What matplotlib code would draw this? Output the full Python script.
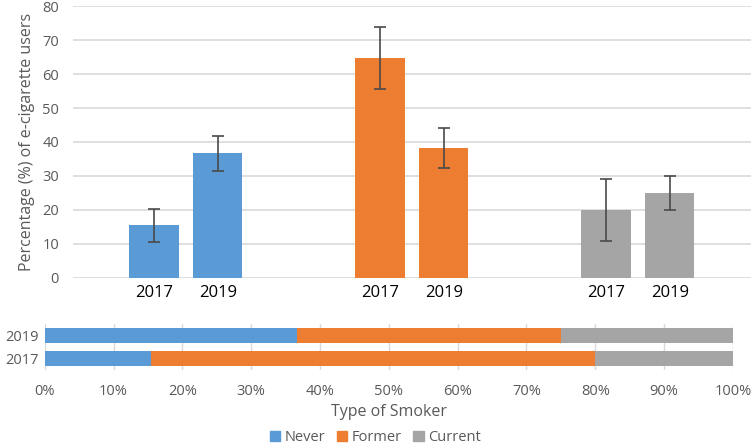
import numpy as np
import matplotlib
matplotlib.use('Agg')
import matplotlib.pyplot as plt
from matplotlib.patches import Patch

plt.rcParams['font.family'] = ['Open Sans', 'DejaVu Sans']

# Data
smoker_types = ['Never', 'Former', 'Current']
years = ['2017', '2019']
pct_2017 = [15.5, 64.6, 20.0]
pct_2019 = [36.7, 38.3, 25.0]
err_2017 = [4.9, 9.1, 9.0]
err_2019 = [5.2, 5.9, 5.0]
colors = ['#5B9BD5', '#ED7D31', '#A5A5A5']

text_col = '#595959'
grid_col = '#D9D9D9'

fig = plt.figure(figsize=(7.51, 4.45), dpi=100)

# --- top grouped bar chart ---
ax = fig.add_axes([0.0972, 0.3753, 0.9028, 0.6112])
x = np.arange(len(smoker_types))
w = 0.22
off = 0.14
for i in range(len(smoker_types)):
    ax.bar(x[i] - off, pct_2017[i], w, color=colors[i], zorder=2,
           yerr=err_2017[i], ecolor='#4a4a4a', capsize=4,
           error_kw={'elinewidth': 1.2, 'capthick': 1.2})
    ax.bar(x[i] + off, pct_2019[i], w, color=colors[i], zorder=2,
           yerr=err_2019[i], ecolor='#4a4a4a', capsize=4,
           error_kw={'elinewidth': 1.2, 'capthick': 1.2})

ax.set_xlim(-0.5, 2.5)
ax.set_ylim(0, 80)
ax.set_yticks(range(0, 81, 10))
ax.yaxis.grid(True, color=grid_col, linewidth=1.2, zorder=0)
ax.set_axisbelow(True)
for s in ax.spines.values():
    s.set_visible(False)
ax.tick_params(axis='y', length=0, labelsize=10.5, labelcolor=text_col, pad=10)
xt = np.concatenate([x - off, x + off])
ax.set_xticks(np.sort(xt))
ax.set_xticklabels(years * 3)
ax.tick_params(axis='x', length=0, labelsize=12, labelcolor='#000000', pad=5)
ax.set_ylabel('Percentage (%) of e-cigarette users', fontsize=11.5,
              color=text_col, labelpad=5)

# --- bottom stacked horizontal bars ---
ax2 = fig.add_axes([0.0595, 0.1685, 0.9165, 0.1034])
rows = [pct_2017, pct_2019]
for r, vals in enumerate(rows):
    left = 0
    tot = sum(vals)
    for i, v in enumerate(vals):
        share = v / tot * 100
        ax2.barh(r, share, 0.67, left=left, color=colors[i], zorder=2)
        left += share
ax2.set_ylim(-0.5, 1.5)
ax2.set_xlim(0, 100)
ax2.set_yticks([0, 1])
ax2.set_yticklabels(years)
ax2.set_xticks(range(0, 101, 10))
ax2.set_xticklabels([f'{t}%' for t in range(0, 101, 10)])
ax2.xaxis.grid(True, color=grid_col, linewidth=1.0, zorder=0)
ax2.set_axisbelow(True)
for s in ax2.spines.values():
    s.set_visible(False)
ax2.tick_params(axis='both', length=0, labelsize=10.5, labelcolor=text_col)
ax2.tick_params(axis='x', pad=10)
ax2.tick_params(axis='y', pad=4)
ax2.set_xlabel('Type of Smoker', fontsize=11.5, color=text_col, labelpad=4)

handles = [Patch(color=c, label=l) for c, l in zip(colors, smoker_types)]
fig.legend(handles=handles, loc='center', bbox_to_anchor=(0.5, 0.016),
           ncol=3, frameon=False, fontsize=10.5, labelcolor=text_col,
           handlelength=0.7, handleheight=0.7, handletextpad=0.3,
           columnspacing=0.8)

fig.savefig('out.png', dpi=100)
